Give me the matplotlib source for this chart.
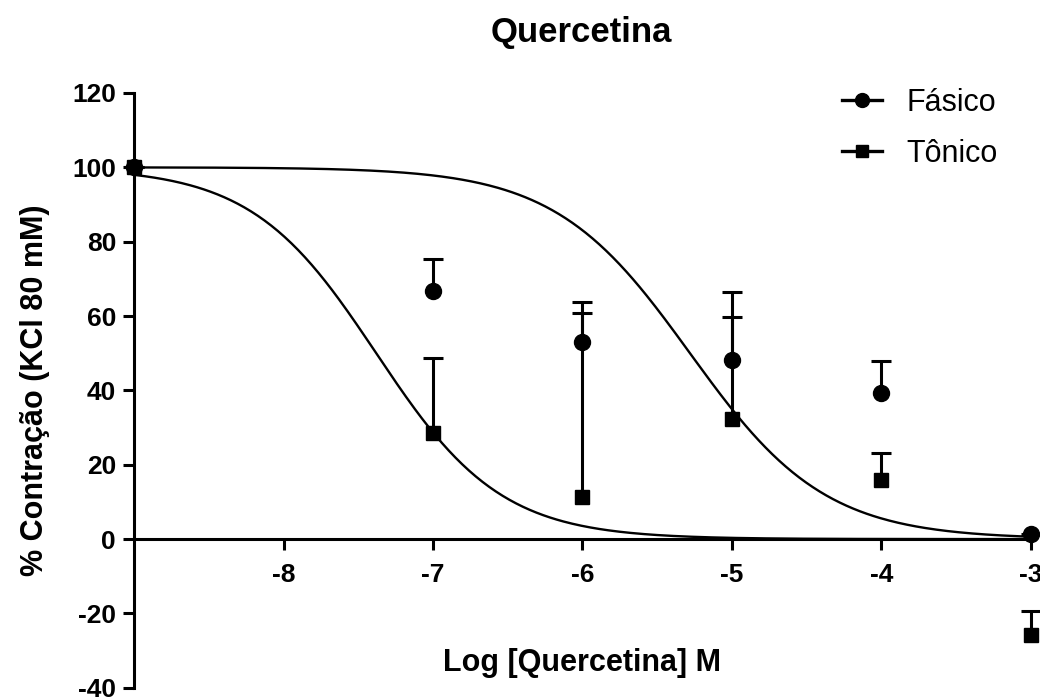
import numpy as np
import matplotlib
matplotlib.use("Agg")
import matplotlib.pyplot as plt

plt.rcParams['font.family'] = ['Liberation Sans', 'DejaVu Sans']
plt.rcParams['axes.unicode_minus'] = False

# Data (log molar concentration vs % contraction)
log_conc = [-9, -7, -6, -5, -4, -3]
fasico_mean = [100, 66.8, 53.0, 48.3, 39.2, 1.4]
fasico_err = [0, 8.6, 7.8, 11.4, 8.6, 0]
tonico_mean = [100, 28.6, 11.4, 32.4, 15.9, -25.7]
tonico_err = [0, 20.2, 52.3, 34.0, 7.2, 6.3]

# Fitted sigmoid parameters (top, bottom, logIC50, hill slope)
fit_fasico = (100, 0, -5.28, -0.96)
fit_tonico = (100, 0, -7.38, -1.04)

x_ticks = [-8, -7, -6, -5, -4, -3]
y_ticks = [-40, -20, 0, 20, 40, 60, 80, 100, 120]


def hill(x, top, bottom, logic50, slope):
    return bottom + (top - bottom) / (1 + 10 ** ((logic50 - x) * slope))


fig = plt.figure(figsize=(10.4, 6.99), dpi=100)
ax = fig.add_axes([0.129, 0.016, 0.862, 0.851])

xs = np.linspace(-9, -3, 400)
ax.plot(xs, hill(xs, *fit_fasico), color='black', lw=1.7, clip_on=False)
ax.plot(xs, hill(xs, *fit_tonico), color='black', lw=1.7, clip_on=False)

for mean, err, mk, size in [(fasico_mean, fasico_err, 'o', 11.5),
                            (tonico_mean, tonico_err, 's', 10.5)]:
    eb = ax.errorbar(log_conc, mean, yerr=[np.zeros(len(err)), err],
                     fmt=mk, color='black', ms=size, elinewidth=2.2, capsize=7,
                     capthick=2.2, clip_on=False, zorder=4)
    eb[1][0].set_visible(False)  # no lower caps (one-sided bars)
    for art in eb[1] + eb[2]:
        art.set_clip_on(False)

# legend entries
ax.plot([], [], '-o', color='black', ms=10, lw=2.4, label='Fásico')
ax.plot([], [], '-s', color='black', ms=9, lw=2.4, label='Tônico')
handles, labels = ax.get_legend_handles_labels()
ax.legend(handles[-2:], labels[-2:], loc='upper right', frameon=False, fontsize=22,
          handlelength=1.3, handletextpad=0.8, labelspacing=0.7,
          bbox_to_anchor=(0.994, 1.055))

ax.set_xlim(-9, -3)
ax.set_ylim(-40, 120)
ax.set_xticks(x_ticks)
ax.set_yticks(y_ticks)
ax.spines['top'].set_visible(False)
ax.spines['right'].set_visible(False)
ax.spines['bottom'].set_position(('data', 0))
for s in ('left', 'bottom'):
    ax.spines[s].set_linewidth(2.2)
ax.tick_params(width=2.2, length=8, labelsize=19)
ax.tick_params(axis='x', pad=9)
ax.tick_params(axis='y', pad=5)
for lab in ax.get_xticklabels() + ax.get_yticklabels():
    lab.set_fontweight('bold')

ax.set_ylabel('% Contração (KCl 80 mM)', fontsize=22, fontweight='bold', labelpad=16)
ax.text(0.5, 0.042, 'Log [Quercetina] M', transform=ax.transAxes, ha='center',
        va='center', fontsize=22, fontweight='bold')
fig.text(0.559, 0.954, 'Quercetina', ha='center', va='center', fontsize=25,
         fontweight='bold')

fig.savefig('out.png', dpi=100)
